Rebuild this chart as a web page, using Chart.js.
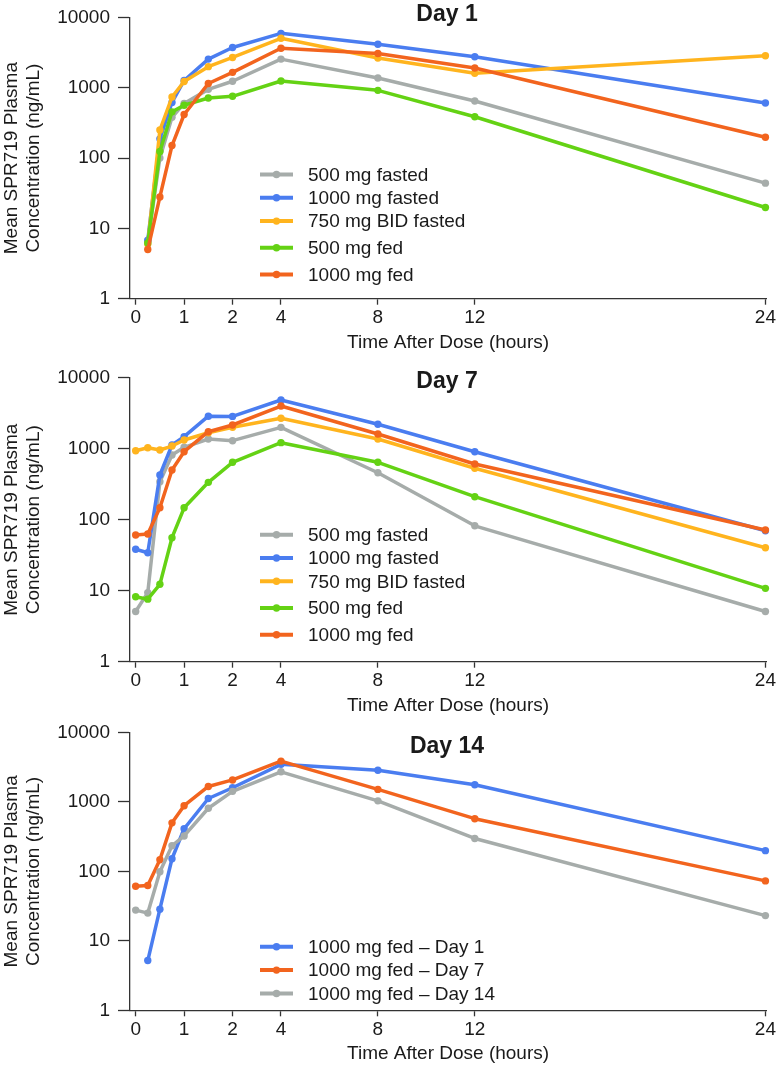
<!DOCTYPE html>
<html>
<head>
<meta charset="utf-8">
<script src="https://cdn.jsdelivr.net/npm/chart.js@4.4.1/dist/chart.umd.min.js"></script>
<style>
  html, body { margin: 0; padding: 0; background: #fff; }
  canvas { position: absolute; left: 0; }
</style>
</head>
<body>
<canvas id="day1" width="780" height="352" style="top:0px"></canvas>
<canvas id="day7" width="780" height="363" style="top:352px"></canvas>
<canvas id="day14" width="780" height="352" style="top:715px"></canvas>
<script>
// sampling times (hours)
const hoursPost = [0.25, 0.5, 0.75, 1, 1.5, 2, 4, 8, 12, 24];
const hoursPre = [0, 0.25, 0.5, 0.75, 1, 1.5, 2, 4, 8, 12, 24];
const xTickHours = [0, 1, 2, 4, 8, 12, 24];
const yTickValues = [1, 10, 100, 1000, 10000];

// Day 1
const d1Fasted500 = [6.5, 100, 380, 600, 950, 1240, 2560, 1380, 650, 44];
const d1Fasted1000 = [6.8, 188, 620, 1270, 2560, 3740, 5950, 4170, 2770, 609];
const d1Bid750 = [6.0, 251, 740, 1230, 2000, 2700, 5060, 2650, 1610, 2860];
const d1Fed500 = [6.2, 124, 455, 565, 716, 757, 1250, 920, 387, 19.8];
const d1Fed1000 = [5.0, 28, 151, 417, 1150, 1660, 3650, 3080, 1910, 198];

// Day 7
const d7Fasted500 = [5.1, 9.4, 343, 815, 1047, 1370, 1297, 2000, 459, 82, 5.1];
const d7Fasted1000 = [38.3, 34.3, 426, 1128, 1476, 2870, 2850, 4850, 2207, 907, 70];
const d7Bid750 = [937, 1033, 959, 1090, 1327, 1680, 2000, 2680, 1370, 530, 40.3];
const d7Fed500 = [8.2, 7.6, 12.3, 55.8, 147, 336, 643, 1216, 643, 211, 10.8];
const d7Fed1000 = [61, 63, 147, 500, 907, 1735, 2157, 3990, 1610, 609, 71.6];

// Day 14 panel: 1000 mg fed on each day
const d14Day1 = [5.2, 28.6, 152, 411, 1122, 1600, 3480, 2866, 1766, 199];
const d14Day7 = [61, 62.8, 147, 500, 883, 1670, 2075, 3875, 1517, 574, 73];
const d14Day14 = [27.7, 25.1, 99, 234, 324, 811, 1420, 2715, 1038, 298, 23.1];

const GRAY = '#a6acaa', BLUE = '#4a7df0', YELLOW = '#ffb41e', GREEN = '#64d214', ORANGE = '#f2641e';
const FONT = '"Liberation Sans", Arial, Helvetica, sans-serif';
const INK = '#1a1a1a';
const AXIS = '#333';

Chart.defaults.font.family = FONT;
Chart.defaults.color = INK;

// x axis is stretched 2x between 0 and 2 h
function axisPos(h) {
    return h <= 2 ? h * 2 : h + 2;
}

const panelTitle = {
    id: 'panelTitle',
    afterDraw(chart, args, opts) {
        const ctx = chart.ctx;
        ctx.save();
        ctx.font = 'bold 23px ' + FONT;
        ctx.fillStyle = INK;
        ctx.textAlign = 'center';
        ctx.textBaseline = 'alphabetic';
        ctx.fillText(opts.text, 447, opts.y);
        ctx.restore();
    }
};

const seriesKey = {
    id: 'seriesKey',
    afterDatasetsDraw(chart, args, opts) {
        const ctx = chart.ctx;
        const top = chart.chartArea.top;
        ctx.save();
        ctx.font = '19px ' + FONT;
        ctx.textBaseline = 'middle';
        ctx.textAlign = 'left';
        chart.data.datasets.forEach((ds, i) => {
            const y = top + opts.rows[i];
            ctx.strokeStyle = ds.borderColor;
            ctx.lineWidth = 4;
            ctx.beginPath();
            ctx.moveTo(260, y);
            ctx.lineTo(293, y);
            ctx.stroke();
            ctx.fillStyle = ds.borderColor;
            ctx.beginPath();
            ctx.arc(276.5, y, 3.7, 0, Math.PI * 2);
            ctx.fill();
            ctx.fillStyle = INK;
            ctx.fillText(ds.label, 308, y + 1);
        });
        ctx.restore();
    }
};

function makePanel(id, title, titleY, series, rows, topPad, xAxisH, titlePad) {
    const datasets = series.map((s, i) => ({
        label: s.label,
        data: s.hours.map((h, k) => ({x: axisPos(h), y: s.values[k]})),
        borderColor: s.color,
        backgroundColor: s.color,
        pointBackgroundColor: s.color,
        pointBorderWidth: 0,
        pointRadius: 3.7,
        pointHoverRadius: 3.7,
        borderWidth: 3.5,
        borderJoinStyle: 'round',
        tension: 0,
        clip: false,
        order: series.length - 1 - i
    }));
    return new Chart(document.getElementById(id), {
        type: 'line',
        data: {datasets: datasets},
        options: {
            responsive: false,
            animation: false,
            layout: {padding: {top: topPad, left: 0, right: 11, bottom: 0}},
            plugins: {
                legend: {display: false},
                tooltip: {enabled: false},
                panelTitle: {text: title, y: titleY},
                seriesKey: {rows: rows}
            },
            scales: {
                x: {
                    type: 'linear',
                    min: -0.234,
                    max: 26.03,
                    afterBuildTicks: axis => { axis.ticks = xTickHours.map(h => ({value: axisPos(h)})); },
                    afterFit: axis => { axis.height = xAxisH; },
                    ticks: {
                        callback: (v, i) => String(xTickHours[i]),
                        font: {size: 19, lineHeight: 1},
                        padding: 4,
                        maxRotation: 0,
                        autoSkip: false,
                        color: INK
                    },
                    grid: {drawOnChartArea: false, drawTicks: true, tickLength: 6, tickColor: AXIS, tickWidth: 1.3},
                    border: {display: true, color: AXIS, width: 1.3},
                    title: {
                        display: true,
                        text: 'Time After Dose (hours)',
                        font: {size: 19, lineHeight: 1},
                        padding: {top: 0, bottom: titlePad},
                        color: INK
                    }
                },
                y: {
                    type: 'logarithmic',
                    min: 1,
                    max: 10000,
                    afterBuildTicks: axis => { axis.ticks = yTickValues.map(v => ({value: v})); },
                    afterFit: axis => { axis.width = 130; },
                    ticks: {
                        callback: v => String(v),
                        font: {size: 19, lineHeight: 1},
                        padding: 8,
                        color: INK
                    },
                    grid: {drawOnChartArea: false, drawTicks: true, tickLength: 12, tickColor: AXIS, tickWidth: 1.3},
                    border: {display: true, color: AXIS, width: 1.3},
                    title: {
                        display: true,
                        text: ['Mean SPR719 Plasma', 'Concentration (ng/mL)'],
                        font: {size: 19, lineHeight: 1.2},
                        padding: 0,
                        color: INK
                    }
                }
            }
        },
        plugins: [panelTitle, seriesKey]
    });
}

const legendRows5 = [157, 180.3, 203.6, 230.3, 257];

makePanel('day1', 'Day 1', 21, [
    {label: '500 mg fasted', hours: hoursPost, values: d1Fasted500, color: GRAY},
    {label: '1000 mg fasted', hours: hoursPost, values: d1Fasted1000, color: BLUE},
    {label: '750 mg BID fasted', hours: hoursPost, values: d1Bid750, color: YELLOW},
    {label: '500 mg fed', hours: hoursPost, values: d1Fed500, color: GREEN},
    {label: '1000 mg fed', hours: hoursPost, values: d1Fed1000, color: ORANGE}
], legendRows5, 14.7, 53.3, 0);

makePanel('day7', 'Day 7', 36.3, [
    {label: '500 mg fasted', hours: hoursPre, values: d7Fasted500, color: GRAY},
    {label: '1000 mg fasted', hours: hoursPre, values: d7Fasted1000, color: BLUE},
    {label: '750 mg BID fasted', hours: hoursPre, values: d7Bid750, color: YELLOW},
    {label: '500 mg fed', hours: hoursPre, values: d7Fed500, color: GREEN},
    {label: '1000 mg fed', hours: hoursPre, values: d7Fed1000, color: ORANGE}
], legendRows5, 25.7, 53.3, 0);

makePanel('day14', 'Day 14', 37.7, [
    {label: '1000 mg fed – Day 1', hours: hoursPost, values: d14Day1, color: BLUE},
    {label: '1000 mg fed – Day 7', hours: hoursPre, values: d14Day7, color: ORANGE},
    {label: '1000 mg fed – Day 14', hours: hoursPre, values: d14Day14, color: GRAY}
], [214.3, 237.6, 261], 10.7, 56.7, 4.2);
</script>
</body>
</html>
